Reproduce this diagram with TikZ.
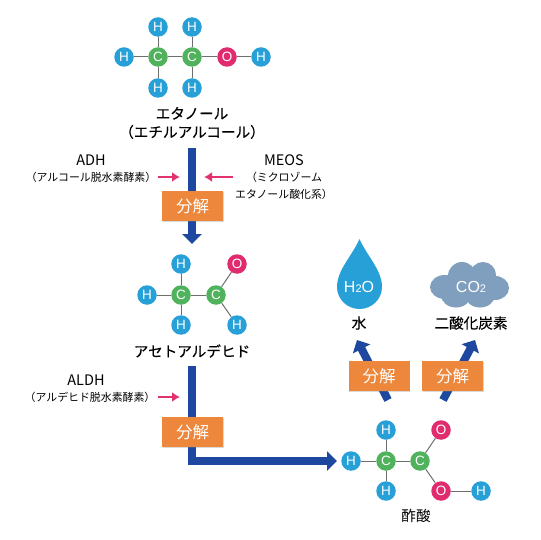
\documentclass[tikz,border=0pt]{standalone}
\usepackage{fontspec}
\setmainfont{Noto Sans CJK JP}
\newfontfamily\medfont[FakeBold=0.35]{Noto Sans CJK JP}
\newfontfamily\atomfont{Liberation Sans}
\usepackage{xcolor}
\usetikzlibrary{arrows.meta,backgrounds,shadows}
\definecolor{hyd}{RGB}{39,160,216}
\definecolor{carb}{RGB}{80,178,92}
\definecolor{oxy}{RGB}{224,43,110}
\definecolor{bond}{RGB}{110,110,110}
\definecolor{flow}{RGB}{30,72,160}
\definecolor{enz}{RGB}{226,50,112}
\definecolor{split}{RGB}{237,135,60}
\definecolor{cloudc}{RGB}{128,158,190}
\tikzset{
  atom/.style={circle,minimum size=19.5pt,inner sep=0pt,text=white,
    font=\atomfont\fontsize{13.5}{13.5}\selectfont},
  bondline/.style={bond,line width=1pt},
  flowline/.style={flow,line width=8pt},
  flowhead/.style={flowline,-{Triangle[length=10pt,width=19pt]}},
  enzarrow/.style={enz,line width=1.7pt,-{Latex[length=8pt,width=10pt]}},
  splitbox/.style={fill=split,text=white,minimum width=61pt,minimum height=30pt,
    inner sep=0pt,font=\fontsize{16.5}{17}\selectfont,
    drop shadow={shadow xshift=0.5pt,shadow yshift=-0.8pt,opacity=.3}},
  bigname/.style={align=center,inner sep=0pt,font=\medfont\fontsize{14.6}{18.5}\selectfont},
  enzname/.style={inner sep=0pt,font=\fontsize{14.5}{16}\selectfont},
  enzfull/.style={align=center,inner sep=0pt,font=\fontsize{10.9}{16.5}\selectfont},
}
\begin{document}
\begin{tikzpicture}[x=1pt,y=-1pt]
\useasboundingbox (0,0) rectangle (540,540);

% atoms: {name, x, y, letter, colour}
\foreach \nm/\x/\y/\el/\col in {
   ea/124/57/H/hyd, eb/158/27/H/hyd, ec/192/27/H/hyd, ed/158/88/H/hyd,
   ee/192/88/H/hyd, ef/158/57/C/carb, eg/192/57/C/carb, eh/227/57/O/oxy,
   ei/261/57/H/hyd,
   ka/147/295/H/hyd, kb/181/264/H/hyd, kc/181/325/H/hyd, kd/181/295/C/carb,
   ke/216/295/C/carb, kf/237/264/O/oxy, kg/237/325/H/hyd,
   sa/351/461/H/hyd, sb/386/430/H/hyd, sc/386/491/H/hyd, sd/386/461/C/carb,
   se/420/461/C/carb, sf/441/430/O/oxy, sg/441/491/O/oxy, sh/481/491/H/hyd}{
  \node[atom,fill=\col] (\nm) at (\x,\y) {\el};
}

% bonds
\begin{scope}[on background layer]
\foreach \p/\q in {ea/ef,eb/ef,ed/ef,ef/eg,ec/eg,ee/eg,eg/eh,eh/ei,
   ka/kd,kb/kd,kc/kd,kd/ke,ke/kf,ke/kg,
   sa/sd,sb/sd,sc/sd,sd/se,se/sf,se/sg,sg/sh}{
  \draw[bondline] (\p) -- (\q);
}
\end{scope}

% names
\node[bigname] (ethanol) at (192,123) {エタノール\\（エチルアルコール）};
\node[bigname] (acetald) at (192,351) {アセトアルデヒド};
\node[inner sep=0pt,font=\fontsize{14.6}{18}\selectfont] (acetic) at (416,516) {酢酸};
\node[bigname] (waterlab) at (359,323) {水};
\node[bigname] (colab) at (471,323) {二酸化炭素};

% flow arrows
\coordinate (fa) at (192,148);
\coordinate (fb) at (192,244);
\coordinate (fc) at (192,366);
\coordinate (fd) at (192,461);
\coordinate (fe) at (337,461);
\coordinate (ff) at (388,400);
\coordinate (fg) at (357,340);
\coordinate (fh) at (443,400);
\coordinate (fi) at (475,340);
\draw[flowhead] (fa) -- (fb);
\draw[flowhead,line join=miter] (fc) -- (fd) -- (fe);
\draw[flowhead] (ff) -- (fg);
\draw[flowhead] (fh) -- (fi);

% boxes
\foreach \nm/\x/\y in {boxa/192.5/206, boxb/192.5/432, boxc/379/376, boxd/452.5/376}{
  \node[splitbox] (\nm) at (\x,\y) {分解};
}

% enzymes
\node[enzname] (adh) at (91,160) {ADH};
\node[enzfull] (adhfull) at (91,177) {（アルコール脱水素酵素）};
\node[enzname] (meos) at (284,160) {MEOS};
\node[enzfull] (meosfull) at (284,186) {（ミクロゾーム\\エタノール酸化系）};
\node[enzname] (aldh) at (86,380) {ALDH};
\node[enzfull] (aldhfull) at (90,397) {（アルデヒド脱水素酵素）};
\coordinate (pa) at (180,177);
\coordinate (pb) at (204,177);
\coordinate (pc) at (233,177);
\coordinate (pd) at (180,397);
\coordinate (pe) at (158,177);
\coordinate (pf) at (158,397);
\draw[enzarrow] (pe) -- (pa);
\draw[enzarrow] (pc) -- (pb);
\draw[enzarrow] (pf) -- (pd);

% water drop
\fill[hyd] (359.5,239) .. controls (352,256) and (337,270) .. (337,287)
   .. controls (337,299) and (347,309) .. (359.5,309)
   .. controls (372,309) and (382,299) .. (382,287)
   .. controls (382,270) and (367,256) .. (359.5,239);
\node[inner sep=0pt,text=white,font=\atomfont\fontsize{16}{16}\selectfont] (water) at (359,287)
  {H\fontsize{11}{11}\selectfont 2\fontsize{16}{16}\selectfont O};

% cloud
\fill[cloudc] (445,287) ellipse (15 and 12)
   (495,288) ellipse (14 and 12)
   (462,276) circle (14)
   (483,275) circle (13)
   (456,295) ellipse (15 and 12.5)
   (480,295) ellipse (15 and 12.5)
   (470,285) ellipse (22 and 14);
\node[inner sep=0pt,text=white,font=\atomfont\fontsize{16}{16}\selectfont] (co) at (471,287)
  {CO\fontsize{11}{11}\selectfont 2};
\end{tikzpicture}
\end{document}
